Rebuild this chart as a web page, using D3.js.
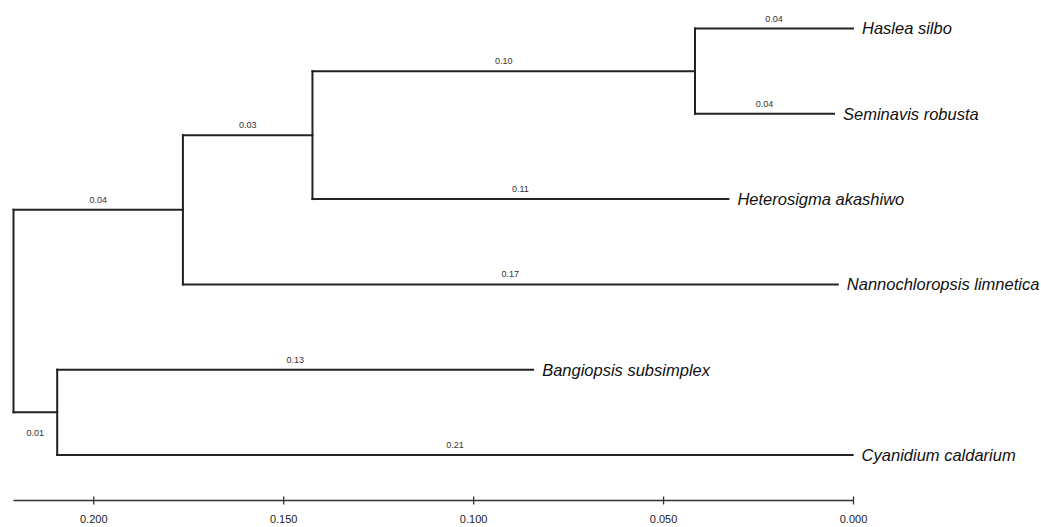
<!DOCTYPE html>
<html>
<head>
<meta charset="utf-8">
<script src="https://cdn.jsdelivr.net/npm/d3@7"></script>
<style>
  body { margin: 0; background: #fff; }
  svg { display: block; font-family: "Liberation Sans", Arial, sans-serif; }
  .branch { fill: none; stroke: #222; stroke-width: 2; stroke-linecap: square; }
  .blabel { font-size: 9px; fill: #333; text-anchor: middle; }
  .taxon { font-size: 16.5px; font-style: italic; fill: #111; }
  .axis path, .axis line { stroke: #333; stroke-width: 1.3; }
  .axis text { font-size: 11px; fill: #222; font-family: "Liberation Sans", Arial, sans-serif; }
</style>
</head>
<body>
<div id="tree"></div>
<script>
// tree topology: node ids, their parents and branch lengths
var nodeIds = ["root", "n1", "n2", "n3", "n4",
  "Haslea silbo", "Seminavis robusta", "Heterosigma akashiwo",
  "Nannochloropsis limnetica", "Bangiopsis subsimplex", "Cyanidium caldarium"];
var parentIds = [null, "root", "n1", "n2", "root", "n3", "n3", "n2", "n1", "n4", "n4"];
var branchLengths = [0, 0.0446, 0.0341, 0.1007, 0.0115, 0.0416, 0.0366, 0.1095, 0.1724, 0.1253, 0.2094];
var axisTicks = [0.200, 0.150, 0.100, 0.050, 0.000];

var width = 1041, height = 527;

function drawTree(id) {
    var table = nodeIds.map(function(d, i) { return {id: d, parent: parentIds[i], len: branchLengths[i]}; });
    var root = d3.stratify().id(function(d) { return d.id; }).parentId(function(d) { return d.parent; })(table);

    // cumulative distance from the root
    root.each(function(n) { n.dist = n.parent ? n.parent.dist + n.data.len : 0; });
    var rootHeight = d3.max(root.leaves(), function(n) { return n.dist; });

    var x = d3.scaleLinear().domain([rootHeight, 0]).range([13.5, 853]);
    var leaves = root.leaves();
    var y = d3.scaleLinear().domain([0, leaves.length - 1]).range([28.5, 455]);

    leaves.forEach(function(n, i) { n.py = y(i); });
    root.eachAfter(function(n) {
        if (n.children) n.py = (n.children[0].py + n.children[n.children.length - 1].py) / 2;
    });
    function px(n) { return x(rootHeight - n.dist); }

    var svg = d3.select("#" + id).append("svg").attr("width", width).attr("height", height);

    // horizontal branches
    svg.selectAll(".hbranch").data(root.descendants().filter(function(n) { return n.parent; })).enter()
        .append("line").attr("class", "branch hbranch")
        .attr("x1", function(n) { return px(n.parent); }).attr("y1", function(n) { return n.py; })
        .attr("x2", function(n) { return px(n); }).attr("y2", function(n) { return n.py; });

    // vertical connectors
    svg.selectAll(".vbranch").data(root.descendants().filter(function(n) { return n.children; })).enter()
        .append("line").attr("class", "branch vbranch")
        .attr("x1", px).attr("y1", function(n) { return n.children[0].py; })
        .attr("x2", px).attr("y2", function(n) { return n.children[n.children.length - 1].py; });

    // branch length labels (short branches get their label underneath)
    svg.selectAll(".blabel").data(root.descendants().filter(function(n) { return n.parent; })).enter()
        .append("text").attr("class", "blabel")
        .attr("x", function(n) { return (px(n) + px(n.parent)) / 2; })
        .attr("y", function(n) { return n.data.len < 0.02 ? n.py + 24 : n.py - 7; })
        .text(function(n) { return n.data.len.toFixed(2); });

    // taxon names
    svg.selectAll(".taxon").data(leaves).enter()
        .append("text").attr("class", "taxon")
        .attr("x", function(n) { return px(n) + 9; })
        .attr("y", function(n) { return n.py; }).attr("dy", "0.36em")
        .text(function(n) { return n.id; });

    // scale axis
    var g = svg.append("g").attr("class", "axis").attr("transform", "translate(0,500.5)")
        .call(d3.axisBottom(x).tickValues(axisTicks).tickFormat(d3.format(".3f")).tickSizeOuter(0).tickSize(4).tickPadding(11));
    g.selectAll(".tick line").attr("y1", -4).attr("y2", 4);
    g.select(".domain").attr("d", "M" + x.range()[0] + ",0H" + x.range()[1]);
}

drawTree("tree");
</script>
</body>
</html>
